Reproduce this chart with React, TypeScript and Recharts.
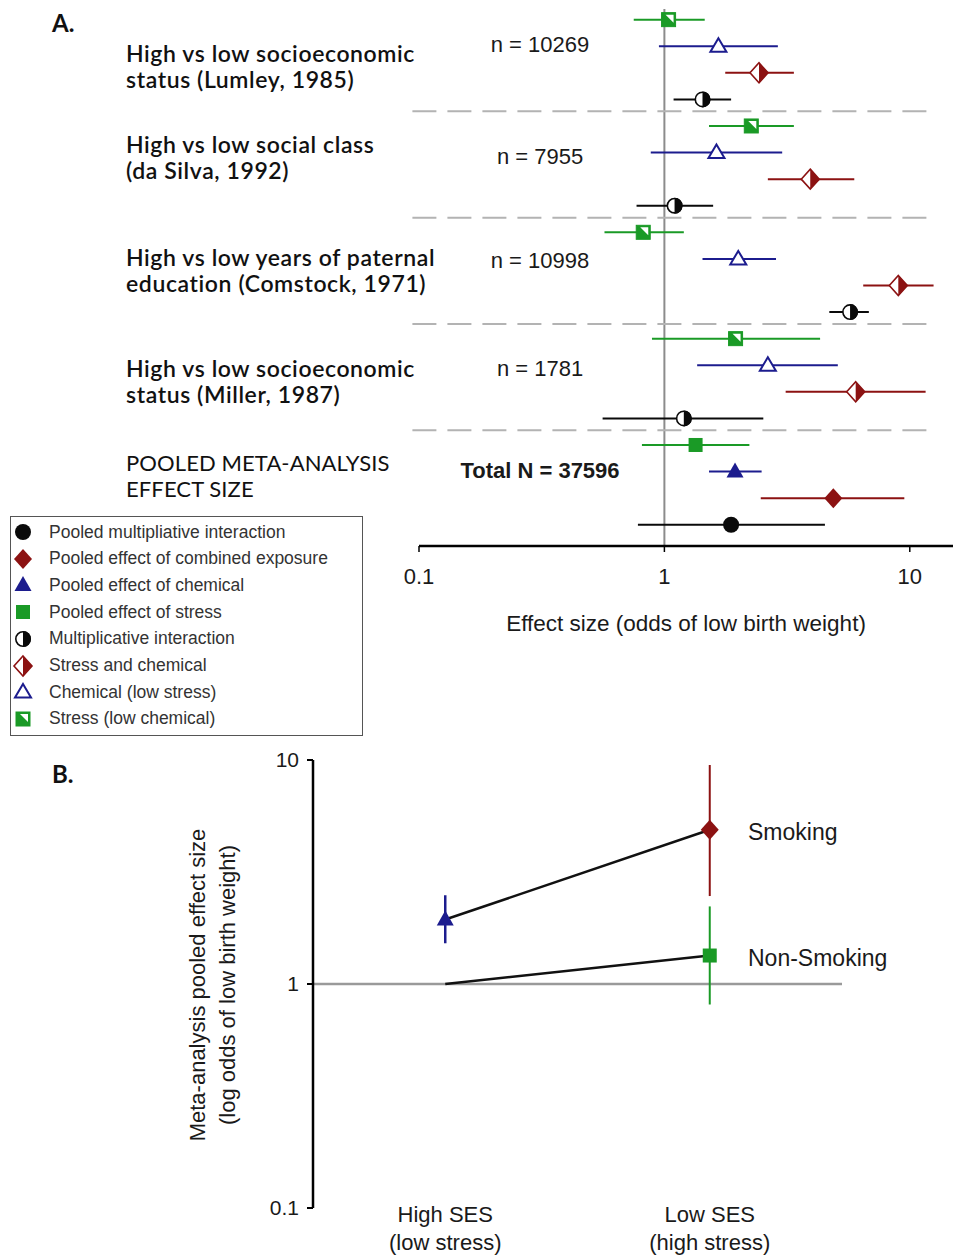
import React from 'react';
import { ScatterChart, Scatter, XAxis, YAxis, ErrorBar, ReferenceLine } from 'recharts';

const ARIAL = '"Liberation Sans", Arial, sans-serif';
const CALIBRI = 'Lato, "Open Sans", sans-serif';

// studies, top to bottom; the last row is the pooled meta-analysis
const studyLabels = [
  ['High vs low socioeconomic', 'status (Lumley, 1985)'],
  ['High vs low social class', '(da Silva, 1992)'],
  ['High vs low years of paternal', 'education (Comstock, 1971)'],
  ['High vs low socioeconomic', 'status (Miller, 1987)'],
  ['POOLED META-ANALYSIS', 'EFFECT SIZE'],
];
const studyN = ['n = 10269', 'n = 7955', 'n = 10998', 'n = 1781', 'Total N = 37596'];

// odds ratios with lower / upper limits, one value per study (pooled last)
const stressEst = [1.04, 2.26, 0.82, 1.95, 1.34];
const stressLo = [0.75, 1.52, 0.57, 0.89, 0.81];
const stressHi = [1.46, 3.37, 1.2, 4.31, 2.22];

const chemEst = [1.66, 1.63, 2.0, 2.64, 1.94];
const chemLo = [0.95, 0.88, 1.43, 1.36, 1.52];
const chemHi = [2.9, 3.02, 2.85, 5.09, 2.49];

const combEst = [2.43, 3.93, 8.98, 6.02, 4.88];
const combLo = [1.77, 2.64, 6.46, 3.12, 2.47];
const combHi = [3.37, 5.94, 12.5, 11.6, 9.5];

const interEst = [1.43, 1.1, 5.71, 1.2, 1.87];
const interLo = [1.09, 0.77, 4.7, 0.56, 0.78];
const interHi = [1.87, 1.58, 6.81, 2.53, 4.51];

const xTicks = [0.1, 1, 10];
const separatorRows = [3.45, 7.45, 11.45, 15.45];

// panel B
const sesLabels = [['High SES', '(low stress)'], ['Low SES', '(high stress)']];
const bTicks = [0.1, 1, 10];

const GREEN = '#1a9a26';
const BLUE = '#1c1c8e';
const RED = '#8c1212';
const BLACK = '#0a0a0a';

type Kind = 'circle' | 'diamond' | 'triangle' | 'square';

function Marker({ kind, cx, cy, filled }: { kind: Kind; cx: number; cy: number; filled: boolean }) {
  if (kind === 'circle') {
    const r = 8;
    if (filled) return <circle cx={cx} cy={cy} r={r} fill={BLACK} />;
    return (
      <g>
        <circle cx={cx} cy={cy} r={r - 0.8} fill="#fff" stroke={BLACK} strokeWidth={1.6} />
        <path d={`M${cx},${cy - r} A${r},${r} 0 0 1 ${cx},${cy + r} Z`} fill={BLACK} />
      </g>
    );
  }
  if (kind === 'diamond') {
    const w = 9;
    const h = 10;
    const pts = `${cx},${cy - h} ${cx + w},${cy} ${cx},${cy + h} ${cx - w},${cy}`;
    if (filled) return <polygon points={pts} fill={RED} />;
    return (
      <g>
        <polygon points={pts} fill="#fff" stroke={RED} strokeWidth={1.6} />
        <polygon points={`${cx},${cy - h} ${cx + w},${cy} ${cx},${cy + h}`} fill={RED} />
      </g>
    );
  }
  if (kind === 'triangle') {
    if (filled) {
      return <polygon points={`${cx},${cy - 9} ${cx + 8.5},${cy + 6} ${cx - 8.5},${cy + 6}`} fill={BLUE} />;
    }
    return (
      <polygon
        points={`${cx},${cy - 8} ${cx + 8},${cy + 5.5} ${cx - 8},${cy + 5.5}`}
        fill="#fff"
        stroke={BLUE}
        strokeWidth={2}
      />
    );
  }
  const s = 7;
  if (filled) return <rect x={cx - s} y={cy - s} width={2 * s} height={2 * s} fill={GREEN} />;
  return (
    <g>
      <rect x={cx - s} y={cy - s} width={2 * s} height={2 * s} fill={GREEN} stroke={GREEN} strokeWidth={1} />
      <polygon points={`${cx - 3},${cy - s + 2} ${cx + s - 2},${cy - s + 2} ${cx + s - 2},${cy + 3}`} fill="#fff" />
    </g>
  );
}

const makeShape = (kind: Kind, alwaysFilled = false) => (props: any) => (
  <Marker kind={kind} cx={props.cx} cy={props.cy} filled={alwaysFilled || !!props.payload.pooled} />
);

const buildRows = (est: number[], lo: number[], hi: number[], k: number) =>
  est.map((v, g) => ({ x: v, y: g * 4 + k, err: [v - lo[g], hi[g] - v], pooled: g === 4 }));

const seriesA = [
  { key: 'stress', kind: 'square' as Kind, color: GREEN, rows: buildRows(stressEst, stressLo, stressHi, 0) },
  { key: 'chem', kind: 'triangle' as Kind, color: BLUE, rows: buildRows(chemEst, chemLo, chemHi, 1) },
  { key: 'comb', kind: 'diamond' as Kind, color: RED, rows: buildRows(combEst, combLo, combHi, 2) },
  { key: 'inter', kind: 'circle' as Kind, color: BLACK, rows: buildRows(interEst, interLo, interHi, 3) },
];

const legendItems: { kind: Kind; filled: boolean; label: string }[] = [
  { kind: 'circle', filled: true, label: 'Pooled multipliative interaction' },
  { kind: 'diamond', filled: true, label: 'Pooled effect of combined exposure' },
  { kind: 'triangle', filled: true, label: 'Pooled effect of chemical' },
  { kind: 'square', filled: true, label: 'Pooled effect of stress' },
  { kind: 'circle', filled: false, label: 'Multiplicative interaction' },
  { kind: 'diamond', filled: false, label: 'Stress and chemical' },
  { kind: 'triangle', filled: false, label: 'Chemical (low stress)' },
  { kind: 'square', filled: false, label: 'Stress (low chemical)' },
];

const P = 4; // pooled index
const smokingPts = [
  { x: 1, y: chemEst[P], err: [chemEst[P] - chemLo[P], chemHi[P] - chemEst[P]] },
  { x: 2, y: combEst[P], err: [combEst[P] - combLo[P], combHi[P] - combEst[P]] },
];
const nonSmokingPts = [
  { x: 1, y: 1 },
  { x: 2, y: stressEst[P], err: [stressEst[P] - stressLo[P], stressHi[P] - stressEst[P]] },
];

function SesTick(props: any) {
  const { x, y, payload } = props;
  const lines = sesLabels[payload.value - 1] || [];
  return (
    <text x={x} y={y} textAnchor="middle" fontFamily={ARIAL} fontSize={22} fill="#1a1a1a">
      <tspan x={x} dy={6}>{lines[0]}</tspan>
      <tspan x={x} dy={28}>{lines[1]}</tspan>
    </text>
  );
}

const abs = (left: number, top: number, extra: React.CSSProperties = {}): React.CSSProperties => ({
  position: 'absolute',
  left,
  top,
  whiteSpace: 'nowrap',
  ...extra,
});

const groupTops = [40, 131, 244, 355, 450];
const nTops = [34, 146, 250, 358, 460];

export default function App() {
  return (
    <div style={{ position: 'relative', width: 959, height: 1257, background: '#fff', overflow: 'hidden' }}>
      <style>{'body{margin:0}'}</style>

      {/* Panel A */}
      <div style={{ position: 'absolute', left: 0, top: 0 }}>
        <ScatterChart width={959} height={660} margin={{ top: 9, right: 6, bottom: 14, left: 419 }}>
          <XAxis
            type="number"
            dataKey="x"
            scale="log"
            domain={[0.1, 15]}
            ticks={xTicks}
            allowDataOverflow
            height={100}
            axisLine={{ stroke: '#000', strokeWidth: 2.5 }}
            tickLine={{ stroke: '#000', strokeWidth: 1.5 }}
            tickSize={6}
            tickMargin={16}
            tick={{ fontSize: 22, fill: '#1a1a1a', fontFamily: ARIAL }}
            tickFormatter={(v: number) => String(v)}
          />
          <YAxis type="number" dataKey="y" domain={[-0.4, 19.8]} reversed hide allowDataOverflow />
          <ReferenceLine x={1} stroke="#8c8c8c" strokeWidth={2} />
          {separatorRows.map((r) => (
            <ReferenceLine
              key={r}
              segment={[{ x: 0.094, y: r }, { x: 11.8, y: r }]}
              ifOverflow="visible"
              stroke="#b3b3b3"
              strokeWidth={2}
              strokeDasharray="24 11"
            />
          ))}
          {seriesA.map((s) => (
            <Scatter key={s.key} data={s.rows} shape={makeShape(s.kind)} isAnimationActive={false}>
              <ErrorBar dataKey="err" direction="x" width={0} stroke={s.color} strokeWidth={2} />
            </Scatter>
          ))}
        </ScatterChart>
      </div>

      <div style={abs(52, 8, { fontFamily: CALIBRI, fontWeight: 700, fontSize: 24, color: '#111' })}>A.</div>

      {studyLabels.map((lines, g) =>
        lines.map((line, j) => (
          <div
            key={`${g}-${j}`}
            style={abs(126, groupTops[g] + j * 26, {
              height: 26,
              fontFamily: CALIBRI,
              fontWeight: g === 4 ? 400 : 600,
              fontSize: g === 4 ? 22 : 23,
              letterSpacing: g === 4 ? 0.1 : 0.6,
              lineHeight: '26px',
              color: '#111',
            })}
          >
            {line}
          </div>
        ))
      )}

      {studyN.map((t, g) => (
        <div
          key={t}
          style={abs(340, nTops[g], {
            width: 400,
            textAlign: 'center',
            fontFamily: ARIAL,
            fontSize: 22,
            lineHeight: '22px',
            fontWeight: g === 4 ? 700 : 400,
            color: '#1a1a1a',
          })}
        >
          {t}
        </div>
      ))}

      <div
        style={abs(486, 613, {
          width: 400,
          textAlign: 'center',
          fontFamily: ARIAL,
          fontSize: 22.5,
          lineHeight: '22px',
          color: '#1a1a1a',
        })}
      >
        Effect size (odds of low birth weight)
      </div>

      {/* legend */}
      <div
        style={abs(10, 516, {
          width: 351,
          height: 218,
          border: '1.5px solid #555',
          background: '#fff',
        })}
      >
        {legendItems.map((it, i) => (
          <div key={it.label} style={abs(0, 2 + i * 26.7, { height: 26, display: 'flex', alignItems: 'center' })}>
            <svg width={26} height={26} style={{ marginLeft: 0 }}>
              <Marker kind={it.kind} cx={12} cy={13} filled={it.filled} />
            </svg>
            <span style={{ marginLeft: 12, fontFamily: ARIAL, fontSize: 17.5, color: '#333' }}>{it.label}</span>
          </div>
        ))}
      </div>

      {/* Panel B */}
      <div style={abs(52, 759, { fontFamily: CALIBRI, fontWeight: 700, fontSize: 24, color: '#111' })}>B.</div>

      <div style={{ position: 'absolute', left: 0, top: 740 }}>
        <ScatterChart width={959} height={517} margin={{ top: 20, right: 117, bottom: 0, left: 253 }}>
          <XAxis
            type="number"
            dataKey="x"
            domain={[0.5, 2.5]}
            ticks={[1, 2]}
            axisLine={false}
            tickLine={false}
            height={49}
            tick={<SesTick />}
          />
          <YAxis
            type="number"
            dataKey="y"
            scale="log"
            domain={[0.1, 10]}
            ticks={bTicks}
            allowDataOverflow
            width={60}
            axisLine={{ stroke: '#000', strokeWidth: 2.5 }}
            tickLine={{ stroke: '#000', strokeWidth: 2 }}
            tickSize={6}
            tickMargin={8}
            tick={{ fontSize: 21, fill: '#1a1a1a', fontFamily: ARIAL }}
            tickFormatter={(v: number) => String(v)}
          />
          <ReferenceLine y={1} stroke="#9a9a9a" strokeWidth={2.5} />
          <Scatter
            data={smokingPts}
            line={{ stroke: '#111', strokeWidth: 2.5 }}
            shape={() => <g />}
            isAnimationActive={false}
          />
          <Scatter
            data={nonSmokingPts}
            line={{ stroke: '#111', strokeWidth: 2.5 }}
            shape={() => <g />}
            isAnimationActive={false}
          />
          <Scatter data={[smokingPts[0]]} shape={makeShape('triangle', true)} isAnimationActive={false}>
            <ErrorBar dataKey="err" direction="y" width={0} stroke={BLUE} strokeWidth={2.5} />
          </Scatter>
          <Scatter data={[smokingPts[1]]} shape={makeShape('diamond', true)} isAnimationActive={false}>
            <ErrorBar dataKey="err" direction="y" width={0} stroke={RED} strokeWidth={2} />
          </Scatter>
          <Scatter data={[nonSmokingPts[1]]} shape={makeShape('square', true)} isAnimationActive={false}>
            <ErrorBar dataKey="err" direction="y" width={0} stroke={GREEN} strokeWidth={2} />
          </Scatter>
        </ScatterChart>
      </div>

      <div style={abs(748, 821, { fontFamily: ARIAL, fontSize: 23, lineHeight: '22px', color: '#1a1a1a' })}>Smoking</div>
      <div style={abs(748, 947, { fontFamily: ARIAL, fontSize: 23, lineHeight: '22px', color: '#1a1a1a' })}>
        Non-Smoking
      </div>

      <div
        style={abs(13, 955, {
          width: 400,
          height: 60,
          transform: 'rotate(-90deg)',
          transformOrigin: 'center',
          textAlign: 'center',
          fontFamily: ARIAL,
          fontSize: 22,
          lineHeight: '30px',
          color: '#1a1a1a',
        })}
      >
        Meta-analysis pooled effect size
        <br />
        (log odds of low birth weight)
      </div>
    </div>
  );
}
